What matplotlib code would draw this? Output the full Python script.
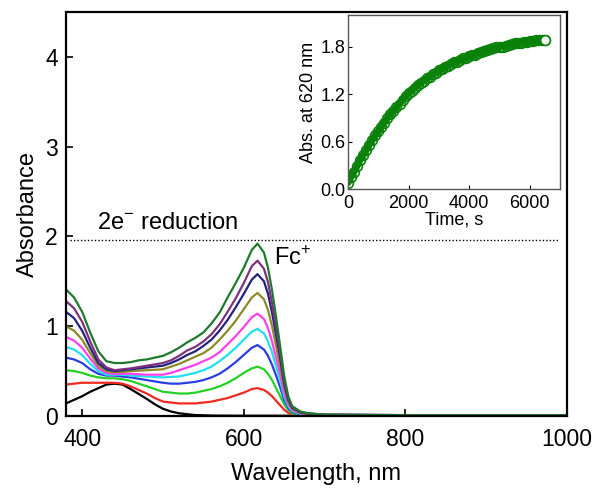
## Libs
import matplotlib
matplotlib.use("Agg")
import matplotlib.pyplot as plt

plt.rcParams['font.family'] = ['Liberation Sans', 'DejaVu Sans']
plt.rcParams['mathtext.fontset'] = 'custom'
plt.rcParams['mathtext.rm'] = 'Liberation Sans'

## Spectres
wl = [380, 390, 400, 410, 420, 430, 440, 450, 460, 470, 480, 490, 500, 510, 520, 530,
      540, 550, 560, 570, 580, 590, 600, 610, 617, 625, 630, 635, 640, 645, 650, 655,
      660, 670, 680, 700, 800, 1000]

abs_black = [0.14, 0.18, 0.22, 0.27, 0.31, 0.35, 0.36, 0.35, 0.30, 0.245, 0.19, 0.13, 0.08,
             0.05, 0.03, 0.02, 0.01, 0.008, 0.005, 0.004, 0.004, 0.003, 0.003, 0.003, 0.003,
             0.003, 0.003, 0.003, 0.003, 0.003, 0.003, 0.003, 0.003, 0.003, 0.003, 0.003,
             0.003, 0.003]
abs_red = [0.35, 0.36, 0.37, 0.37, 0.37, 0.37, 0.37, 0.36, 0.33, 0.29, 0.25, 0.20, 0.16,
           0.15, 0.14, 0.14, 0.14, 0.15, 0.16, 0.18, 0.20, 0.23, 0.26, 0.30, 0.31, 0.29,
           0.26, 0.22, 0.17, 0.12, 0.07, 0.035, 0.018, 0.008, 0.005, 0.003, 0.003, 0.003]
abs_green = [0.51, 0.50, 0.48, 0.45, 0.43, 0.42, 0.42, 0.41, 0.39, 0.36, 0.33, 0.30, 0.27,
             0.26, 0.25, 0.25, 0.26, 0.28, 0.30, 0.33, 0.37, 0.42, 0.48, 0.53, 0.55, 0.52,
             0.47, 0.40, 0.31, 0.22, 0.13, 0.065, 0.03, 0.015, 0.01, 0.005, 0.004, 0.004]
abs_blue = [0.65, 0.63, 0.59, 0.52, 0.47, 0.45, 0.45, 0.44, 0.43, 0.415, 0.40, 0.385, 0.37,
            0.36, 0.36, 0.37, 0.38, 0.40, 0.43, 0.47, 0.53, 0.60, 0.68, 0.76, 0.79, 0.74,
            0.67, 0.57, 0.45, 0.32, 0.18, 0.09, 0.045, 0.02, 0.012, 0.008, 0.005, 0.005]
abs_cyan = [0.77, 0.74, 0.68, 0.58, 0.50, 0.46, 0.46, 0.46, 0.45, 0.445, 0.44, 0.435, 0.43,
            0.435, 0.44, 0.46, 0.48, 0.51, 0.55, 0.61, 0.68, 0.76, 0.85, 0.94, 0.97, 0.92,
            0.83, 0.71, 0.55, 0.40, 0.22, 0.11, 0.055, 0.025, 0.015, 0.01, 0.006, 0.006]
abs_magenta = [0.88, 0.84, 0.76, 0.64, 0.53, 0.48, 0.47, 0.47, 0.47, 0.465, 0.46, 0.46, 0.46,
               0.48, 0.51, 0.54, 0.57, 0.61, 0.65, 0.71, 0.80, 0.89, 0.99, 1.10, 1.14, 1.08,
               0.98, 0.83, 0.65, 0.47, 0.26, 0.13, 0.065, 0.03, 0.018, 0.01, 0.007, 0.007]
abs_olive = [1.00, 0.95, 0.85, 0.70, 0.56, 0.50, 0.49, 0.49, 0.50, 0.505, 0.51, 0.515, 0.52,
             0.55, 0.58, 0.62, 0.66, 0.70, 0.76, 0.85, 0.95, 1.06, 1.19, 1.32, 1.37, 1.30,
             1.18, 1.00, 0.78, 0.56, 0.32, 0.16, 0.08, 0.035, 0.022, 0.012, 0.008, 0.008]
abs_navy = [1.16, 1.09, 0.95, 0.76, 0.59, 0.52, 0.50, 0.51, 0.52, 0.53, 0.54, 0.55, 0.56,
            0.59, 0.63, 0.68, 0.72, 0.78, 0.85, 0.95, 1.07, 1.21, 1.36, 1.52, 1.58, 1.50,
            1.36, 1.15, 0.90, 0.65, 0.36, 0.18, 0.09, 0.04, 0.025, 0.015, 0.009, 0.009]
abs_purple = [1.28, 1.20, 1.05, 0.83, 0.63, 0.54, 0.51, 0.52, 0.53, 0.545, 0.56, 0.575, 0.59,
              0.62, 0.67, 0.73, 0.77, 0.83, 0.91, 1.02, 1.16, 1.31, 1.48, 1.67, 1.73, 1.64,
              1.49, 1.26, 0.99, 0.71, 0.40, 0.20, 0.10, 0.045, 0.028, 0.015, 0.01, 0.01]
abs_dkgreen = [1.41, 1.32, 1.16, 0.93, 0.72, 0.61, 0.59, 0.59, 0.60, 0.62, 0.63, 0.65, 0.67,
               0.71, 0.76, 0.82, 0.87, 0.93, 1.03, 1.15, 1.32, 1.48, 1.65, 1.85, 1.92, 1.82,
               1.65, 1.40, 1.10, 0.78, 0.45, 0.22, 0.11, 0.05, 0.03, 0.015, 0.01, 0.01]

spectra = [abs_black, abs_red, abs_green, abs_blue, abs_cyan, abs_magenta,
           abs_olive, abs_navy, abs_purple, abs_dkgreen]
colors = ['black', '#f02a20', '#25d025', '#2a3ee0', '#20e0f0', '#ff40e8',
          '#8c8a28', '#23237e', '#7e327e', '#1f7a2e']

reduction_level = 1.96

## Cinétique à 620 nm (insert)
time_s = list(range(0, 6600, 100))
abs_620 = [0.08, 0.15, 0.22, 0.29, 0.37, 0.43, 0.49, 0.56, 0.62, 0.68,
           0.73, 0.79, 0.84, 0.90, 0.95, 0.99, 1.04, 1.08, 1.13, 1.17,
           1.21, 1.24, 1.28, 1.31, 1.34, 1.37, 1.40, 1.42, 1.45, 1.47,
           1.50, 1.52, 1.54, 1.56, 1.58, 1.60, 1.61, 1.63, 1.65, 1.66,
           1.68, 1.69, 1.70, 1.72, 1.73, 1.74, 1.76, 1.77, 1.78, 1.79,
           1.80, 1.80, 1.81, 1.82, 1.83, 1.84, 1.84, 1.85, 1.86, 1.86,
           1.87, 1.87, 1.88, 1.88, 1.89, 1.89]

## Figure
fig = plt.figure(figsize=(6.01, 4.93), dpi=100)
ax = fig.add_axes([0.1098, 0.1562, 0.8336, 0.8195])

for y, c in zip(spectra, colors):
    ax.plot(wl, y, color=c, lw=1.6)

ax.hlines(reduction_level, 385, 990, colors='black', linestyles=(0, (1, 1.5)), lw=1)
ax.text(418, 2.15, '2e$^{-}$ reduction', fontsize=17, va='center', ha='left')
ax.text(638, 1.76, 'Fc$^{+}$', fontsize=17, va='center', ha='left')

ax.set_xlim(380, 1000)
ax.set_ylim(0, 4.5)
ax.set_xticks([400, 600, 800, 1000])
ax.set_yticks([0, 1, 2, 3, 4])
ax.tick_params(direction='in', length=5, width=1.2, labelsize=16.5)
ax.tick_params(axis='x', pad=9)
ax.tick_params(axis='y', pad=6)
ax.set_xlabel('Wavelength, nm', fontsize=17, labelpad=8)
ax.set_ylabel('Absorbance', fontsize=17, labelpad=4)
for s in ax.spines.values():
    s.set_linewidth(1.6)

## Insert
kin_green = '#0a820a'
axi = fig.add_axes([0.579, 0.6166, 0.353, 0.353])
axi.plot(time_s, abs_620, '-', color=kin_green, lw=5, solid_capstyle='round')
axi.plot(time_s, abs_620, 'o', mfc='none', mec=kin_green, mew=1.2, ms=7)
axi.plot(time_s[-1:], abs_620[-1:], 'o', mfc='white', mec=kin_green, mew=1.2, ms=7)
axi.set_xlim(0, 7000)
axi.set_ylim(0, 2.2)
axi.set_xticks([0, 2000, 4000, 6000])
axi.set_yticks([0.0, 0.6, 1.2, 1.8])
axi.set_yticklabels(['0.0', '0.6', '1.2', '1.8'])
axi.tick_params(direction='in', length=3, width=0.8, labelsize=13)
axi.tick_params(axis='x', pad=4)
axi.tick_params(axis='y', pad=2)
axi.set_xlabel('Time, s', fontsize=13, labelpad=0)
axi.set_ylabel('Abs. at 620 nm', fontsize=13, labelpad=2)
for s in axi.spines.values():
    s.set_color('#555555')
    s.set_linewidth(1)

outfile = "out"
plt.savefig(outfile + '.png', format='png', dpi=100)
